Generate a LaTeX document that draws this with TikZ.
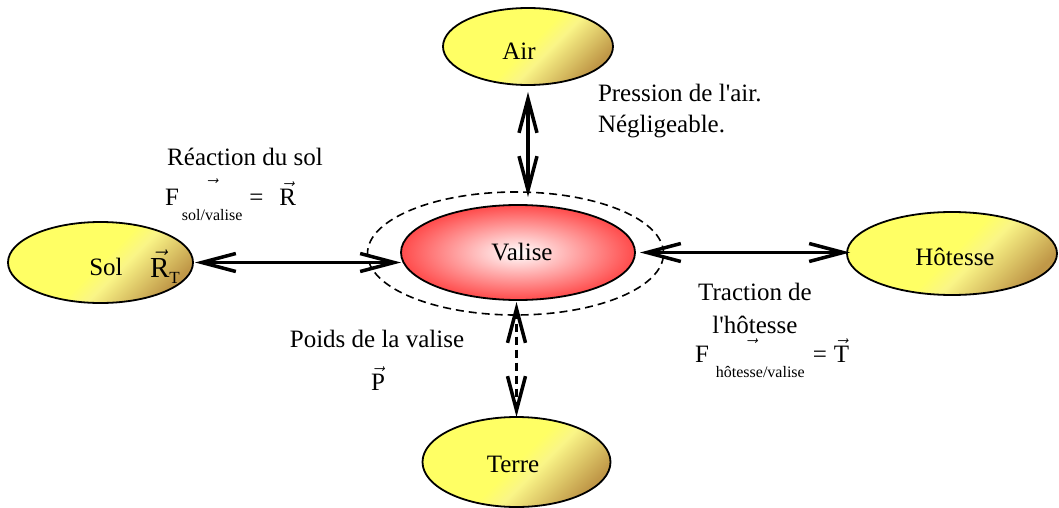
\documentclass[tikz,border=0pt]{standalone}
\usepackage{fix-cm}
\usepackage{fontspec}
\setmainfont{Liberation Serif}
\usetikzlibrary{arrows.meta,shapes.geometric}
\definecolor{ylw}{RGB}{255,255,100}
\definecolor{ylwl}{RGB}{250,245,135}
\definecolor{brn}{RGB}{192,152,72}
\definecolor{vred}{RGB}{255,75,75}
\pgfdeclarehorizontalshading{yshade}{100bp}{color(0bp)=(ylw); color(25bp)=(ylw); color(50bp)=(ylw); color(57bp)=(ylwl); color(75bp)=(brn); color(100bp)=(brn)}
\newcommand{\Fsub}[4]{F\hspace{#2}\raisebox{-15pt}{\fontsize{16}{19}\selectfont #1}\llap{\raisebox{#3}{$\vec{\phantom{o}}$}\hspace{#4}}}
\begin{document}
\begin{tikzpicture}[x=1pt,y=-1pt,
  every node/.style={inner sep=0pt, outer sep=0pt},
  body/.style={ellipse, draw=black, line width=1.8pt, font=\fontsize{25}{30}\selectfont, text depth=0pt},
  ybody/.style={body, shading=yshade, shading angle=-45},
  vbody/.style={body, inner color=white, outer color=vred},
  halo/.style={ellipse, draw=black, line width=1.6pt, dash pattern=on 8pt off 5pt},
  lbl/.style={font=\fontsize{25}{30}\selectfont},
  conn/.style={line width=3.5pt, {Straight Barb[length=34pt,width=18pt]}-{Straight Barb[length=34pt,width=18pt]}},
  dconn/.style={conn, dash pattern=on 8pt off 5pt}
]
\useasboundingbox[fill=white] (0,0) rectangle (1059,508);

% ellipses
\node[halo, minimum width=296, minimum height=123] (halo) at (515.5,253.5) {};
\node[ybody, minimum width=170, minimum height=77, text height=27pt] (air) at (528,46.5) {Air\hspace*{18pt}};
\node[ybody, minimum width=185, minimum height=81, text height=25pt] (sol) at (100.5,262.5) {\hspace*{11pt}Sol};
\node[vbody, minimum width=234, minimum height=95, text height=15pt] (valise) at (518,252.5) {\hspace*{8pt}Valise};
\node[ybody, minimum width=210, minimum height=83, text height=23pt] (hotesse) at (952,253.5) {\hspace*{6pt}Hôtesse};
\node[ybody, minimum width=188, minimum height=90, text height=20pt] (terre) at (516.5,462) {Terre\hspace*{7pt}};

% R_T inside Sol
\node[anchor=base west, font=\fontsize{29}{34}\selectfont] (rt) at (150,277) {$\vec{\mathrm{R}}$\raisebox{-6pt}{\fontsize{17}{20}\selectfont T}};

% connectors
\draw[conn] ([xshift=2pt]sol.east) -- (sol.east -| valise.west);
\draw[conn] ([xshift=5pt]valise.east) -- ([xshift=3pt]valise.east -| hotesse.west);
\draw[conn] ([yshift=-7pt]air.south) -- ([yshift=-5pt]air.south |- halo.north);
\draw[dconn] ([yshift=-2pt]terre.north |- valise.south) -- (terre.north);

% labels
\node[lbl, anchor=base west] (pres1) at (598,102) {Pression de l\textquotesingle air.};
\node[lbl, anchor=base west] (pres2) at (598,132) {Négligeable.};
\node[lbl, anchor=base] (reac) at (245,165) {Réaction du sol};
\node[lbl, anchor=base west] (fsol) at (165,205) {\Fsub{sol/valise}{3pt}{9pt}{25pt}\hspace{7pt}=\hspace{16pt}$\vec{\mathrm{R}}$};
\node[lbl, anchor=base] (trac1) at (755,300) {Traction de};
\node[lbl, anchor=base] (trac2) at (755,333) {l\textquotesingle hôtesse};
\node[lbl, anchor=base west] (fhot) at (695,362) {\Fsub{hôtesse/valise}{7pt}{6pt}{48pt}\hspace{8pt}=\hspace{7pt}$\vec{\mathrm{T}}$};
\node[lbl, anchor=base] (poids) at (377,347) {Poids de la valise};
\node[lbl, anchor=base] (pvec) at (378,390) {$\vec{\mathrm{P}}$};
\end{tikzpicture}
\end{document}
